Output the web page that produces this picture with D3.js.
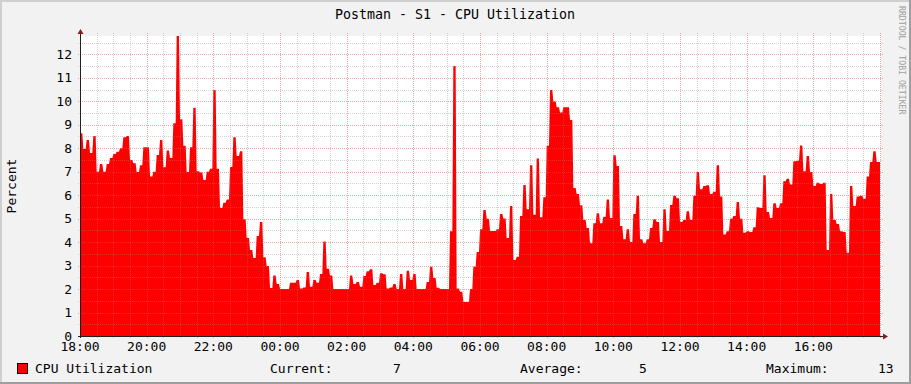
<!DOCTYPE html>
<html>
<head>
<meta charset="utf-8">
<script src="https://cdn.jsdelivr.net/npm/d3@7"></script>
<style>
  body { margin: 0; background: #fff; }
  text { font-family: "DejaVu Sans Mono", monospace; fill: #000; }
</style>
</head>
<body>
<div class="chart"></div>
<script>
const title = "Postman - S1 - CPU Utilization";
const seriesName = "CPU Utilization";
const yLabel = "Percent";
const watermark = "RRDTOOL / TOBI OETIKER";
const stepMinutes = 6;

// 6-minute samples starting 18:00
const cpu = [
  8.64, 7.97, 8.35, 7.8, 8.52,   7.0, 7.33, 7.0, 7.33, 7.58,
  7.75, 7.85, 8.0, 8.47, 8.52,   7.5, 7.36, 6.99, 7.27, 8.04,
  8.04, 6.79, 7.0, 7.71, 8.35,   7.19, 7.9, 7.58, 9.06, 12.78,
  9.23, 8.1, 6.99, 8.04, 9.72,   7.02, 6.97, 6.65, 7.0, 7.13,
  10.48, 7.12, 5.45, 5.68, 5.82, 7.2, 8.47, 7.67, 7.87, 4.97,
  4.18, 3.66, 3.32, 4.26, 4.86,  3.35, 2.98, 2.05, 2.58, 2.22,
  2.0, 2.0, 2.0, 2.27, 2.27,     2.39, 2.02, 2.07, 2.73, 2.1,
  2.39, 2.27, 2.64, 4.03, 2.87,  2.58, 2.0, 2.0, 2.0, 2.0,
  2.0, 2.58, 2.22, 2.3, 2.1,     2.56, 2.76, 2.84, 2.17, 2.27,
  2.67, 2.63, 2.02, 2.07, 2.22,  2.0, 2.64, 2.0, 2.78, 2.39,
  2.64, 2.0, 2.0, 2.0, 2.3,      2.95, 2.47, 2.06, 2.0, 2.0,
  2.0, 4.46, 11.5, 2.02, 1.88,   1.45, 1.45, 2.0, 2.95, 3.58,
  4.55, 5.37, 5.0, 4.47, 4.47,   4.55, 5.2, 5.01, 4.18, 5.54,
  3.24, 3.38, 5.11, 6.43, 5.4,   7.27, 5.17, 7.56, 5.06, 5.91,
  8.1, 10.48, 9.99, 9.74, 9.52,  9.74, 9.74, 9.2, 6.31, 6.05,
  5.57, 4.94, 4.6, 3.95, 4.8,    5.23, 4.8, 5.08, 5.82, 5.03,
  7.7, 7.24, 4.69, 4.12, 4.55,   4.0, 5.2, 5.97, 4.12, 3.95,
  4.12, 4.6, 4.97, 4.86, 4.0,    5.4, 4.47, 5.58, 5.97, 5.87,
  4.86, 4.94, 5.31, 4.94, 5.97,  6.99, 6.25, 6.39, 6.42, 6.05,
  6.14, 7.27, 5.94, 4.32, 4.46,  5.0, 5.11, 5.71, 5.0, 4.4,
  4.46, 4.43, 4.63, 5.48, 5.45,  6.85, 5.28, 5.03, 5.65, 5.45,
  5.65, 6.59, 6.7, 6.45, 7.44,   7.47, 8.12, 7.02, 7.67, 6.99,
  6.39, 6.53, 6.48, 6.53, 3.66,  6.05, 4.94, 4.77, 4.46, 4.43,
  3.55, 6.39, 5.54, 5.94, 5.97,  5.85, 6.79, 7.41, 7.87, 7.41
];
const yTicks = d3.range(0, 13);
const legendLabels = ["Current:", "Average:", "Maximum:"];
const legendValues = ["7", "5", "13"];

const W = 911, H = 384;
const margin = { top: 36, left: 80 };
const width = 800, height = 300;

const start = new Date(2020, 0, 1, 18, 0);
const end = d3.timeHour.offset(start, 24);
const points = cpu.map((v, i) => ({
  t0: d3.timeMinute.offset(start, i * stepMinutes),
  t1: d3.timeMinute.offset(start, (i + 1) * stepMinutes),
  v
}));

const svg = d3.select(".chart").append("svg")
  .attr("width", W).attr("height", H);

// frame
svg.append("rect").attr("width", W).attr("height", H).attr("fill", "#f2f2f2");
svg.append("rect").attr("x", 0).attr("y", 0).attr("width", W).attr("height", 2).attr("fill", "#cfcfcf");
svg.append("rect").attr("x", 0).attr("y", 0).attr("width", 2).attr("height", H).attr("fill", "#cfcfcf");
svg.append("rect").attr("x", 0).attr("y", H - 2).attr("width", W).attr("height", 2).attr("fill", "#9e9e9e");
svg.append("rect").attr("x", W - 2).attr("y", 0).attr("width", 2).attr("height", H).attr("fill", "#9e9e9e");

const g = svg.append("g").attr("transform", `translate(${margin.left}, ${margin.top})`);
g.append("rect").attr("width", width + 1).attr("height", height).attr("fill", "#fff");

const xScale = d3.scaleTime().domain([start, end]).range([0, width]);
const yScale = d3.scaleLinear().domain([0, 12.78]).range([height, 0]);

// area: each sample holds its value over its step, with a 1px slope to the next
const verts = points.flatMap(d => [
  { x: xScale(d.t0), v: d.v },
  { x: xScale(d.t1) - 1, v: d.v }
]);
verts.push({ x: xScale(points[points.length - 1].t1), v: points[points.length - 1].v });
const area = d3.area()
  .x(d => d.x)
  .y0(height)
  .y1(d => yScale(d.v));
g.append("path").datum(verts).attr("d", area).attr("fill", "#ff0000");

// grid
const minorX = xScale.ticks(d3.timeMinute.every(30)).filter(d => !(d.getMinutes() === 0 && d.getHours() % 2 === 0));
const majorX = xScale.ticks(d3.timeHour.every(2));
const minorY = d3.range(0.5, 12.8, 1);
const majorY = yTicks.filter(d => d > 0);
const px = v => Math.round(v) + 0.5;
const minorColor = "rgba(140,140,140,0.38)";
const majorColor = "rgba(222,79,79,0.5)";

const grid = g.append("g").attr("shape-rendering", "crispEdges").attr("stroke-dasharray", "1,1");
grid.selectAll(".mx").data(minorX).join("line")
  .attr("x1", d => px(xScale(d))).attr("x2", d => px(xScale(d)))
  .attr("y1", -3).attr("y2", height + 2)
  .attr("stroke", minorColor);
grid.selectAll(".my").data(minorY).join("line")
  .attr("y1", d => px(yScale(d))).attr("y2", d => px(yScale(d)))
  .attr("x1", -2).attr("x2", width + 3)
  .attr("stroke", minorColor);
grid.selectAll(".Mx").data(majorX.filter(d => +d > +start)).join("line")
  .attr("x1", d => px(xScale(d))).attr("x2", d => px(xScale(d)))
  .attr("y1", -3).attr("y2", height + 2)
  .attr("stroke", majorColor);
grid.selectAll(".My").data(majorY).join("line")
  .attr("y1", d => px(yScale(d))).attr("y2", d => px(yScale(d)))
  .attr("x1", -2).attr("x2", width + 3)
  .attr("stroke", majorColor);

// axes
g.append("line").attr("x1", 0.5).attr("x2", 0.5).attr("y1", height + 2).attr("y2", -4)
  .attr("stroke", "#1f1f1f").attr("shape-rendering", "crispEdges");
g.append("line").attr("x1", -2).attr("x2", width + 5).attr("y1", height + 0.5).attr("y2", height + 0.5)
  .attr("stroke", "#1f1f1f").attr("shape-rendering", "crispEdges");
g.append("path").attr("d", `M-2.5,-2 L3.5,-2 L0.5,-7 Z`).attr("fill", "#801f1f");
g.append("path").attr("d", `M${width + 3},${height - 2.5} L${width + 3},${height + 3.5} L${width + 8},${height + 0.5} Z`).attr("fill", "#801f1f");

// tick labels
g.selectAll(".ylab").data(yTicks).join("text")
  .attr("x", -8).attr("y", d => yScale(d) + 4.5)
  .attr("text-anchor", "end").attr("font-size", 13)
  .text(d => d);
g.selectAll(".xlab").data(majorX.filter(d => d < end)).join("text")
  .attr("x", d => xScale(d)).attr("y", height + 15.3)
  .attr("text-anchor", "middle").attr("font-size", 13)
  .text(d3.timeFormat("%H:%M"));

// title and labels
svg.append("text").attr("x", 455).attr("y", 19).attr("text-anchor", "middle")
  .attr("font-size", 13.3).text(title);
svg.append("text").attr("transform", "translate(15.5,186) rotate(-90)")
  .attr("text-anchor", "middle").attr("font-size", 13).text(yLabel);
svg.append("text").attr("transform", "translate(899,6) rotate(90)")
  .attr("font-size", 8.2).style("fill", "#a0a0a0").text(watermark);

// legend
svg.append("rect").attr("x", 17.5).attr("y", 363.5).attr("width", 10).attr("height", 10)
  .attr("fill", "#ff0000").attr("stroke", "#000");
svg.append("text").attr("x", 35).attr("y", 372.7).attr("font-size", 13).text(seriesName);
const labelX = [270, 520, 766];
const valueX = [393, 639, 878];
legendLabels.forEach((l, i) => {
  svg.append("text").attr("x", labelX[i]).attr("y", 372.7).attr("font-size", 13).text(l);
  svg.append("text").attr("x", valueX[i]).attr("y", 372.7).attr("font-size", 13).text(legendValues[i]);
});
</script>
</body>
</html>
